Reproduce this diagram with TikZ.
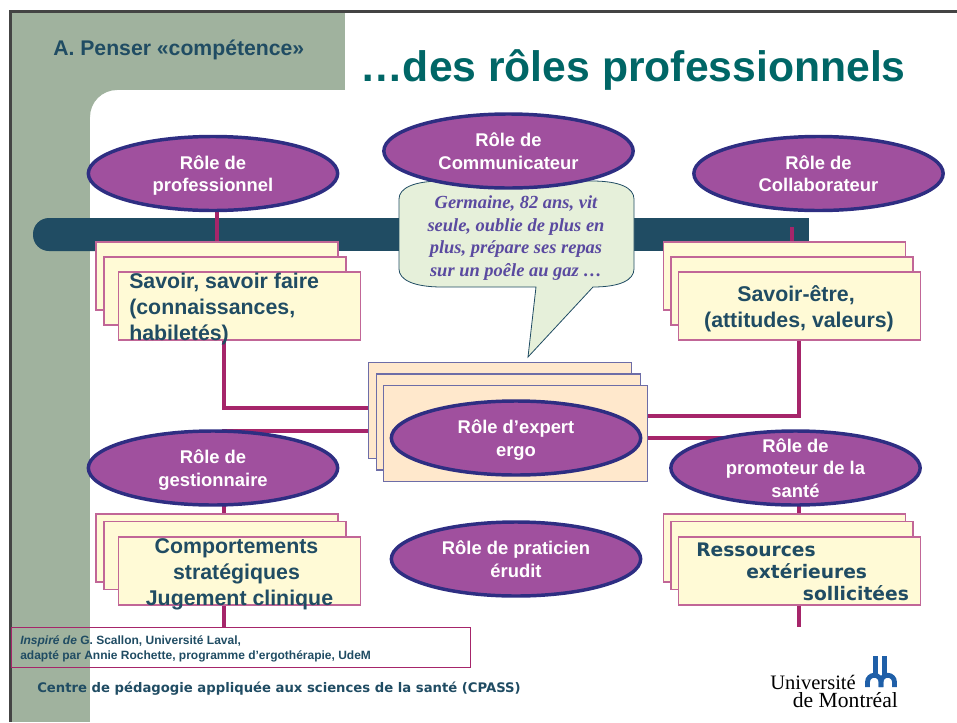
\documentclass[tikz,border=0pt]{standalone}
\usepackage{fontspec}
\setmainfont{Liberation Sans}
\newfontfamily\serifrm{Liberation Serif}
\newfontfamily\dejavu{DejaVu Sans}
\usetikzlibrary{shapes.geometric}
\definecolor{tvert}{HTML}{A0B29E}
\definecolor{tbarre}{HTML}{204C63}
\definecolor{ttitre}{HTML}{006666}
\definecolor{tcadre}{HTML}{444444}
\definecolor{tviolet}{HTML}{A0509E}
\definecolor{tbord}{HTML}{2E2E82}
\definecolor{tlien}{HTML}{A6256A}
\definecolor{tjaune}{HTML}{FFFAD6}
\definecolor{tpeche}{HTML}{FFE8CC}
\definecolor{tbulle}{HTML}{E6F0DA}
\definecolor{tencre}{HTML}{5A4AA0}
\definecolor{tlogo}{HTML}{1F5FA8}

\begin{document}
\begin{tikzpicture}[
    x=0.75pt, y=-0.75pt,
    role/.style={draw=tbord, line width=2.6pt, ellipse, fill=tviolet, text=white,
                 minimum width=187pt, minimum height=55.5pt, inner sep=0pt, text depth=-2.5pt,
                 align=center, font=\fontsize{13.8}{17}\selectfont\bfseries},
    feuille/.style={draw=tlien!70!white, line width=0.8pt, rectangle, fill=tjaune,
                    minimum width=181.5pt, minimum height=51pt},
    feuillepeche/.style={draw=tbord!70!white, line width=0.8pt, rectangle, fill=tpeche,
                         minimum width=197.5pt, minimum height=72pt},
    contenu/.style={text=tbarre, align=center, inner sep=0pt,
                    font=\fontsize{16}{19.5}\selectfont\bfseries},
    lien/.style={draw=tlien, line width=3pt},
    logo/.style={draw=tlogo, line width=3.6pt}
  ]
  \useasboundingbox (0,0) rectangle (957,722);
  % fond
  \fill[tvert] (12,13) rectangle (345,90);
  \fill[tvert] (12,13) rectangle (90,722);
  \fill[tvert] (90,90) -- (117,90) arc[start angle=90, end angle=180, radius=20.25pt] -- cycle;
  \fill[tcadre] (9,10) rectangle (957,13);
  \fill[tcadre] (9,10) rectangle (12,722);
  \node[text=tbarre, anchor=west, inner sep=0pt, font=\fontsize{15.9}{19}\selectfont\bfseries] (penser) at (53,50) {A. Penser «compétence»};
  \node[text=ttitre, anchor=west, inner sep=0pt, font=\fontsize{32}{40}\selectfont\bfseries] (titre) at (360,70) {…des rôles professionnels};
  % barre
  \fill[tbarre, rounded corners=12pt] (33,218) rectangle (120,251);
  \fill[tbarre] (70,218) rectangle (809,251);

  \coordinate (hautG) at (217,205);
  \coordinate (hautD) at (792,227);
  \coordinate (coudeA) at (224,408);
  \coordinate (coudeB) at (224,431);
  \coordinate (coudeC) at (799,415.5);
  \coordinate (coudeD) at (799,438);
  \coordinate (finG) at (224,627);
  \coordinate (finD) at (799,627);

  % bulle
  \draw[draw=tbarre, line width=0.6pt, fill=tbulle] (399,199) .. controls (399,188) and (414,181) .. (442,181)
    -- (592,181) .. controls (620,181) and (634,188) .. (634,199) -- (634,269)
    .. controls (634,280) and (620,287) .. (593,287) -- (528,357) -- (536,287)
    -- (442,287) .. controls (414,287) and (399,280) .. (399,269) -- cycle;
  \node[text=tencre, align=center, inner sep=0pt, font=\fontsize{13.85}{16.9}\serifrm\bfseries\itshape] (cas) at (516,238)
    {Germaine, 82 ans, vit\\seule, oublie de plus en\\plus, prépare ses repas\\sur un poêle au gaz …};

  % feuilles du haut
  \node[feuille] (savoirA) at (217,276) {};
  \node[feuille] (savoirB) at (225,291) {};
  \node[feuille] (savoirC) at (239.5,306) {};
  \node[feuille] (etreA) at (784.5,276) {};
  \node[feuille] (etreB) at (792,291) {};
  \node[feuille] (etreC) at (799.5,306) {};
  % feuilles du bas
  \node[feuille] (compA) at (217,548) {};
  \node[feuille] (compB) at (225,555.5) {};
  \node[feuille] (compC) at (239.5,571) {};
  \node[feuille] (resA) at (784.5,548) {};
  \node[feuille] (resB) at (792,555.5) {};
  \node[feuille] (resC) at (799.5,571) {};
  % feuilles du centre
  \node[feuillepeche] (expertA) at (500,410.5) {};
  \node[feuillepeche] (expertB) at (508.5,422) {};
  \node[feuillepeche] (expertC) at (515.5,433.5) {};

  % liens
  \draw[lien] (hautG) -- (hautG |- savoirA.north);
  \draw[lien] (hautD) -- (hautD |- etreA.north);
  \draw[lien] (coudeA |- savoirC.south) -- (coudeA) -- (coudeA -| expertA.west);
  \draw[lien] (coudeC |- etreC.south) -- (coudeC) -- (coudeC -| expertC.east);
  \draw[lien] (coudeB -| expertA.west) -- (coudeB) -- (coudeB |- compA.north);
  \draw[lien] (coudeD -| expertC.east) -- (coudeD) -- (coudeD |- resA.north);
  \draw[lien] (finG |- compC.south) -- (finG);
  \draw[lien] (finD |- resC.south) -- (finD);

  % roles
  \node[role] (professionnel) at (213,173.5) {Rôle de\\professionnel};
  \node[role] (communicateur) at (508.5,151) {Rôle de\\Communicateur};
  \node[role] (collaborateur) at (818.5,173.5) {Rôle de\\Collaborateur};
  \node[role] (gestionnaire) at (213,468) {Rôle de\\gestionnaire};
  \node[role] (expert) at (516,438) {Rôle d’expert\\ergo};
  \node[role] (praticien) at (516,559) {Rôle de praticien\\érudit};
  \node[role, inner ysep=-5pt] (promoteur) at (795.5,468) {Rôle de\\promoteur de la\\santé};

  % textes des feuilles
  \node[contenu, anchor=west, align=left] (savoirT) at (129,309) {Savoir, savoir faire\\(connaissances,\\habiletés)};
  \node[contenu] (etreT) at (799,309) {Savoir-être,\hspace*{4.5pt}\\(attitudes, valeurs)};
  \node[contenu] (compT) at (236.5,574) {Comportements\\stratégiques\\\hspace*{4.5pt}Jugement clinique};
  \node[text=tbarre, anchor=west, align=left, inner sep=0pt, font=\fontsize{14}{16.5}\dejavu\bfseries] (resT) at (696,571.5)
    {Ressources\\\hspace{37.5pt}extérieures\\\hspace{80pt}sollicitées};

  % pied de page
  \node[draw=tlien, line width=0.6pt, minimum width=344pt, minimum height=30pt, inner sep=0pt] (inspire) at (241,647) {};
  \node[text=tbarre, anchor=west, align=left, inner sep=0pt, font=\fontsize{9}{11.3}\selectfont\bfseries] (inspireT) at (20,649)
    {\textit{Inspiré de} G. Scallon, Université Laval,\\adapté par Annie Rochette, programme d’ergothérapie, UdeM};
  \node[text=tbarre, anchor=west, inner sep=0pt, font=\fontsize{9.9}{12}\dejavu\bfseries] (centre) at (37,688.5) {Centre de pédagogie appliquée aux sciences de la santé (CPASS)};
  \node[anchor=west, align=left, inner sep=0pt, font=\fontsize{15.4}{13.5}\serifrm] (udem) at (770,691)
    {Université\\\hspace*{17pt}\fontsize{16.2}{13.5}\selectfont de Montréal};
  % logo
  \draw[logo] (875.7,656) -- (875.7,678);
  \draw[logo] (884.7,656) -- (884.7,678);
  \draw[logo] (867.5,687) -- (867.5,682) arc[start angle=180, end angle=0, radius=5.06pt] -- (881,687);
  \draw[logo] (881,687) -- (881,682) arc[start angle=180, end angle=0, radius=5.06pt] -- (894.5,687);
\end{tikzpicture}
\end{document}
